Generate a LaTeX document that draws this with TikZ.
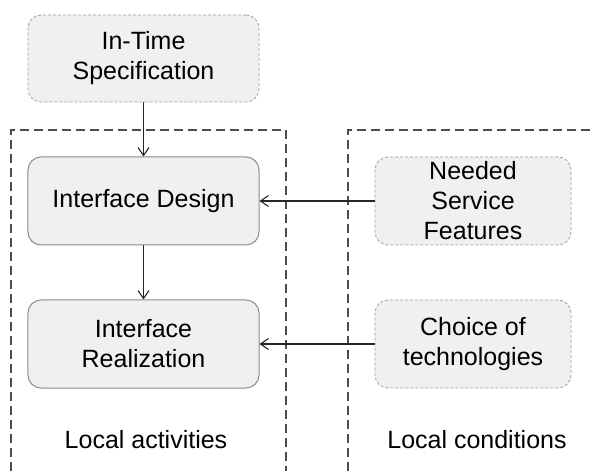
\documentclass[tikz,border=0pt]{standalone}
\usepackage{fontspec}
\setmainfont{Liberation Sans}
\usetikzlibrary{arrows.meta}
\definecolor{boxfill}{HTML}{F0F0F0}
\definecolor{boxline}{HTML}{8C8C8C}
\definecolor{dashline}{HTML}{A0A0A0}
\definecolor{frameline}{HTML}{4D4D4D}
\definecolor{arrowline}{HTML}{262626}
\tikzset{
  basebox/.style={rounded corners=13bp, fill=boxfill, align=center, inner sep=0pt,
    minimum height=88bp, font=\fontsize{25bp}{30bp}\selectfont},
  solidbox/.style={basebox, draw=boxline, line width=1bp, minimum width=231bp},
  inputbox/.style={basebox, draw=dashline, line width=0.8bp, dash pattern=on 3bp off 2bp},
  framepath/.style={draw=frameline, line width=1.2bp, dash pattern=on 9bp off 5bp},
  flow/.style={draw=arrowline, line width=1.1bp, -{Straight Barb[length=8bp,width=11bp]}},
  caption/.style={font=\fontsize{25bp}{30bp}\selectfont}
}
\begin{document}
\begin{tikzpicture}[x=1bp,y=-1bp]
\useasboundingbox (0,0) rectangle (592,471);

% dashed frames, open at the bottom
\coordinate (la) at (11,471);
\coordinate (lb) at (286,130);
\coordinate (lc) at (286,471);
\coordinate (ra) at (348,471);
\coordinate (rb) at (592,130);
\draw[framepath] (la) |- (lb) -- (lc);
\draw[framepath] (ra) |- (rb);

% boxes
\node[inputbox, minimum width=231bp, minimum height=87bp] (spec) at (143.5,58.5) {In-Time\\Specification};
\node[solidbox] (design) at (143.5,201) {Interface Design};
\node[solidbox] (real) at (143.5,344) {Interface\\Realization};
\node[inputbox, minimum width=196bp] (needs) at (473,201) {Needed\\Service\\Features};
\node[inputbox, minimum width=196bp] (tech) at (473,344) {Choice of\\technologies};

% frame captions
\node[caption] (lact) at (146,440) {Local activities};
\node[caption] (lcond) at (477,440) {Local conditions};

% connectors
\draw[flow] (spec) -- (design);
\draw[flow] (design) -- (real);
\draw[flow] (needs) -- (design);
\draw[flow] (tech) -- (real);
\end{tikzpicture}
\end{document}
